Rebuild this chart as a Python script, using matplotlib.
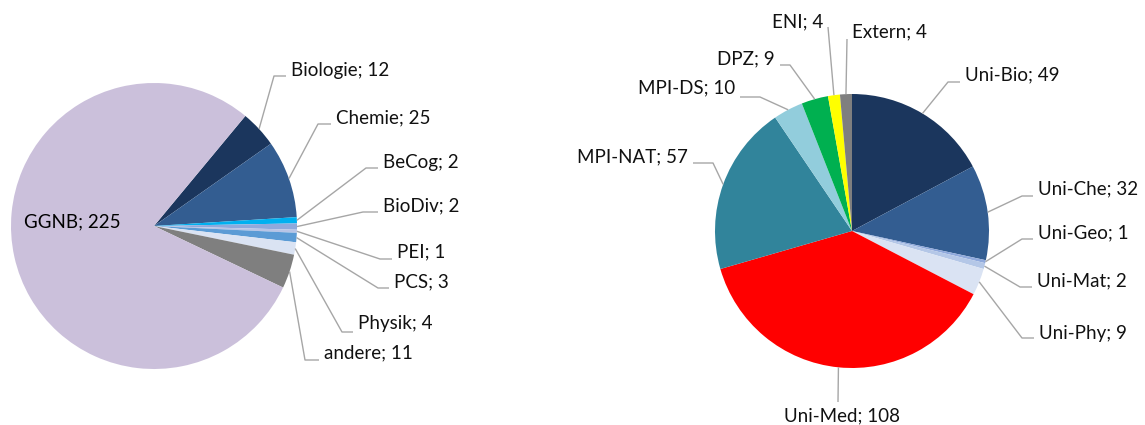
import numpy as np
import matplotlib.pyplot as plt

# data
left_names = ['Biologie', 'Chemie', 'BeCog', 'BioDiv', 'PEI', 'PCS', 'Physik', 'andere', 'GGNB']
left_values = [12, 25, 2, 2, 1, 3, 4, 11, 225]
left_colors = ['#1b365d', '#335d91', '#00b0f0', '#8fa9dc', '#b8c4e6', '#5b9bd5', '#dae3f3', '#7f7f7f', '#cbc0db']

right_names = ['Uni-Bio', 'Uni-Che', 'Uni-Geo', 'Uni-Mat', 'Uni-Phy', 'Uni-Med',
               'MPI-NAT', 'MPI-DS', 'DPZ', 'ENI', 'Extern']
right_values = [49, 32, 1, 2, 9, 108, 57, 10, 9, 4, 4]
right_colors = ['#1b365d', '#335d91', '#8fa9dc', '#b4c7e7', '#dae3f3', '#ff0000',
                '#31849b', '#92cddc', '#00b050', '#ffff00', '#7f7f7f']

# label layout in pixels (elbow x, elbow y, text x, text y, ha); None = inside label
left_layout = [
    (274, 76, 291, 70, 'left'),
    (318, 124, 336, 118, 'left'),
    (366, 168, 383, 162, 'left'),
    (363, 212, 383, 206, 'left'),
    (380, 259, 397, 252, 'left'),
    (378, 288, 394, 282, 'left'),
    (342, 332, 358, 324, 'left'),
    (305, 360, 324, 353, 'left'),
    None,
]
right_layout = [
    (948, 82, 965, 75, 'left'),
    (1022, 196, 1038, 189, 'left'),
    (1022, 239, 1038, 233, 'left'),
    (1020, 287, 1037, 281, 'left'),
    (1022, 338, 1039, 333, 'left'),
    (838, 402, 842, 416, 'center'),
    (713, 163, 688, 157, 'right'),
    (760, 97, 735, 88, 'right'),
    (790, 65, 775, 59, 'right'),
    (828, 27, 823, 22, 'right'),
    (847, 39, 852, 32, 'left'),
]

W, H = 1145, 425
FONT = 'Lato'
FS = 13.5
LINE = '#a6a6a6'


def Y(y):
    return H - y


def draw_pie(ax, values, names, colors, layout, center, radius, start):
    cx, cy = center
    wedges, _ = ax.pie(values, colors=colors, startangle=start, counterclock=False,
                       center=(cx, Y(cy)), radius=radius,
                       wedgeprops=dict(linewidth=0))
    for w, name, val, lay in zip(wedges, names, values, layout):
        label = f'{name}; {val}'
        if lay is None:
            ax.text(24, Y(222), label, fontsize=FS, family=FONT, ha='left', va='center')
            continue
        ex, ey, tx, ty, ha = lay
        mid = np.deg2rad((w.theta1 + w.theta2) / 2)
        sx = cx + radius * np.cos(mid)
        sy = Y(cy) + radius * np.sin(mid)
        if ha == 'left':
            hx = tx - 5
        elif ha == 'right':
            hx = tx + 5
        else:
            hx = ex
        ax.plot([sx, ex, hx], [sy, Y(ey), Y(ey)], color=LINE, lw=1.0, solid_capstyle='butt')
        ax.text(tx, Y(ty), label, fontsize=FS, family=FONT, ha=ha, va='center', color='#111111')


fig = plt.figure(figsize=(W / 100, H / 100), dpi=100)
ax = fig.add_axes([0, 0, 1, 1])
ax.set_xlim(0, W)
ax.set_ylim(0, H)

draw_pie(ax, left_values, left_names, left_colors, left_layout, (154, 226), 143, 50.3)
draw_pie(ax, right_values, right_names, right_colors, right_layout, (852, 231), 137, 90)

ax.set_xlim(0, W)
ax.set_ylim(0, H)
ax.set_aspect('equal')
ax.axis('off')

fig.savefig('out.png', dpi=100)
